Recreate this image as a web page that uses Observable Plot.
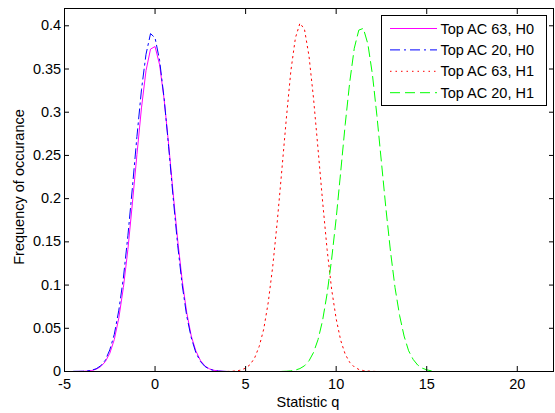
<!DOCTYPE html>
<html>
<head>
<meta charset="utf-8">
<script src="https://cdn.jsdelivr.net/npm/d3@7"></script>
<script src="https://cdn.jsdelivr.net/npm/@observablehq/plot@0.6"></script>
<style>
  html, body { margin: 0; padding: 0; background: white; }
  #chart { width: 555px; height: 413px; position: relative; }
</style>
</head>
<body>
<div id="chart"></div>
<script>
// ---- data ----
const xTicks = [-5, 0, 5, 10, 15, 20];
const yTicks = [0, 0.05, 0.1, 0.15, 0.2, 0.25, 0.3, 0.35, 0.4];

const seriesNames = ["Top AC 63, H0", "Top AC 20, H0", "Top AC 63, H1", "Top AC 20, H1"];
const seriesColors = ["#ff00ff", "#0000ff", "#ff0000", "#00ff00"];
const seriesDash = ["none", "10,4,2,4", "1.5,4", "10,5"];

const h0X = [-4.5,-4.25,-4,-3.75,-3.5,-3.25,-3,-2.75,-2.5,-2.25,-2,-1.75,-1.5,-1.25,-1,-0.75,-0.5,-0.25,0,0.25,0.5,0.75,1,1.25,1.5,1.75,2,2.25,2.5,2.75,3,3.25,3.5,3.75,4];
const ac63H0 = [0,0.0001,0.0002,0.0005,0.0012,0.0026,0.0057,0.0113,0.021,0.037,0.062,0.097,0.141,0.195,0.251,0.305,0.348,0.373,0.376,0.355,0.315,0.263,0.206,0.152,0.105,0.068,0.041,0.024,0.013,0.0064,0.0031,0.0014,0.0006,0.0002,0];
const ac20H0 = [0.0002,0.0002,0.0003,0.0006,0.0014,0.0032,0.0066,0.013,0.025,0.043,0.071,0.108,0.157,0.213,0.272,0.326,0.367,0.391,0.386,0.360,0.316,0.260,0.201,0.146,0.100,0.064,0.039,0.022,0.0117,0.0059,0.0027,0.0012,0.0005,0.0002,0];

const ac63H1X = [4,4.25,4.5,4.75,5,5.25,5.5,5.75,6,6.25,6.5,6.75,7,7.25,7.5,7.75,8,8.25,8.5,8.75,9,9.25,9.5,9.75,10,10.25,10.5,10.75,11,11.25,11.5,11.75,12,12.25];
const ac63H1 = [0.0001,0.0003,0.0007,0.0017,0.0039,0.008,0.0158,0.029,0.049,0.080,0.122,0.174,0.233,0.293,0.348,0.386,0.403,0.396,0.365,0.316,0.257,0.197,0.141,0.095,0.061,0.036,0.020,0.0105,0.0053,0.0024,0.0011,0.0005,0.0002,0];

const ac20H1X = [7,7.25,7.5,7.75,8,8.25,8.5,8.75,9,9.25,9.5,9.75,10,10.25,10.5,10.75,11,11.25,11.5,11.75,12,12.25,12.5,12.75,13,13.25,13.5,13.75,14,14.25,14.5,14.75,15,15.25];
const ac20H1 = [0.0001,0.0003,0.0007,0.0016,0.0034,0.0066,0.0124,0.022,0.037,0.059,0.090,0.130,0.177,0.231,0.286,0.335,0.374,0.395,0.397,0.379,0.344,0.296,0.242,0.188,0.139,0.097,0.065,0.041,0.024,0.014,0.0075,0.0039,0.0019,0.0008];

const xLabel = "Statistic q";
const yLabel = "Frequency of occurance";

// ---- build tables ----
const seriesXs = [h0X, h0X, ac63H1X, ac20H1X];
const seriesYs = [ac63H0, ac20H0, ac63H1, ac20H1];
const tables = seriesXs.map((xs, i) => xs.map((x, j) => ({x, y: seriesYs[i][j]})));

const FONT = "'Liberation Sans', Arial, sans-serif";
const fmt = d => String(+d.toFixed(2));

const lineMarks = tables.map((t, i) =>
  Plot.line(t, {x: "x", y: "y", stroke: seriesColors[i], strokeWidth: 1,
    strokeDasharray: seriesDash[i] === "none" ? null : seriesDash[i]}));

const svg = Plot.plot({
  width: 555, height: 413,
  marginLeft: 64, marginRight: 2, marginTop: 8, marginBottom: 42,
  style: {fontFamily: FONT, fontSize: "14.5px", background: "white", color: "black", overflow: "visible"},
  x: {domain: [-5, 22]},
  y: {domain: [0, 0.42]},
  marks: [
    ...lineMarks,
    Plot.frame({stroke: "black", strokeWidth: 1}),
    Plot.axisX({ticks: xTicks, tickSize: -5, tickPadding: 12.6, tickFormat: fmt, label: null, fontSize: 14.5}),
    Plot.axisX({anchor: "top", ticks: xTicks, tickSize: -5, tickFormat: () => "", label: null}),
    Plot.axisY({ticks: yTicks, tickSize: -5, tickPadding: 8.3, tickFormat: fmt, label: null, fontSize: 14.5}),
    Plot.axisY({anchor: "right", ticks: yTicks, tickSize: -5, tickFormat: () => "", label: null})
  ]
});
document.getElementById("chart").appendChild(svg);

// ---- axis titles and legend ----
const s = d3.select(svg);
s.append("text").attr("x", 308).attr("y", 407).attr("text-anchor", "middle")
  .attr("font-family", FONT).attr("font-size", 14.5).attr("fill", "black").text(xLabel);
s.append("text").attr("transform", "translate(23.5,187) rotate(-90)").attr("text-anchor", "middle")
  .attr("font-family", FONT).attr("font-size", 14.5).attr("fill", "black").text(yLabel);

const lg = s.append("g");
lg.append("rect").attr("x", 381.5).attr("y", 15.5).attr("width", 165).attr("height", 90)
  .attr("fill", "white").attr("stroke", "black").attr("stroke-width", 1);
seriesNames.forEach((name, i) => {
  const cy = 28.5 + i * 21.4;
  lg.append("line").attr("x1", 390).attr("x2", 437).attr("y1", cy).attr("y2", cy)
    .attr("stroke", seriesColors[i]).attr("stroke-width", 1)
    .attr("stroke-dasharray", seriesDash[i] === "none" ? null : seriesDash[i]);
  lg.append("text").attr("x", 440.5).attr("y", cy).attr("dy", "0.35em")
    .attr("text-anchor", "start")
    .attr("font-family", FONT).attr("font-size", 14.5).attr("fill", "black").text(name);
});
</script>
</body>
</html>
